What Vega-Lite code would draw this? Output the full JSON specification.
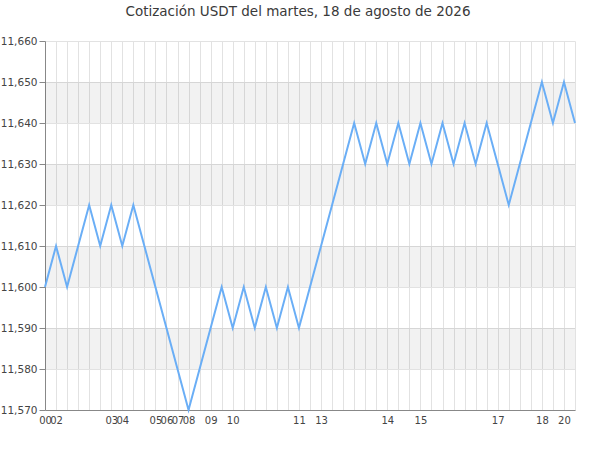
{
  "$schema": "https://vega.github.io/schema/vega-lite/v6.json",
  "width": 530,
  "height": 369,
  "autosize": "none",
  "padding": {"left": 45, "top": 41, "right": 25, "bottom": 40},
  "background": "white",
  "title": {
    "text": "Cotización USDT del martes, 18 de agosto de 2026",
    "font": "DejaVu Sans",
    "fontSize": 13.5,
    "fontWeight": "normal",
    "color": "#3a3a3a",
    "anchor": "middle",
    "offset": 18,
    "dx": -12
  },
  "config": {
    "view": {"stroke": null},
    "axis": {"labelFont": "DejaVu Sans", "labelFontSize": 10.5, "labelColor": "#444444", "domainColor": "#888888", "tickColor": "#888888", "gridColor": "#e2e2e2"}
  },
  "datasets": {
    "cotizacion": [
      {"hora": "00:00", "precio": 11600},
      {"hora": "02:00", "precio": 11610},
      {"hora": "02:10", "precio": 11600},
      {"hora": "02:20", "precio": 11610},
      {"hora": "02:30", "precio": 11620},
      {"hora": "02:40", "precio": 11610},
      {"hora": "03:00", "precio": 11620},
      {"hora": "04:00", "precio": 11610},
      {"hora": "04:20", "precio": 11620},
      {"hora": "04:40", "precio": 11610},
      {"hora": "05:00", "precio": 11600},
      {"hora": "06:00", "precio": 11590},
      {"hora": "07:00", "precio": 11580},
      {"hora": "08:00", "precio": 11570},
      {"hora": "08:30", "precio": 11580},
      {"hora": "09:00", "precio": 11590},
      {"hora": "09:30", "precio": 11600},
      {"hora": "10:00", "precio": 11590},
      {"hora": "10:10", "precio": 11600},
      {"hora": "10:20", "precio": 11590},
      {"hora": "10:30", "precio": 11600},
      {"hora": "10:40", "precio": 11590},
      {"hora": "10:50", "precio": 11600},
      {"hora": "11:00", "precio": 11590},
      {"hora": "11:30", "precio": 11600},
      {"hora": "13:00", "precio": 11610},
      {"hora": "13:10", "precio": 11620},
      {"hora": "13:20", "precio": 11630},
      {"hora": "13:30", "precio": 11640},
      {"hora": "13:40", "precio": 11630},
      {"hora": "13:50", "precio": 11640},
      {"hora": "14:00", "precio": 11630},
      {"hora": "14:20", "precio": 11640},
      {"hora": "14:40", "precio": 11630},
      {"hora": "15:00", "precio": 11640},
      {"hora": "15:05", "precio": 11630},
      {"hora": "15:15", "precio": 11640},
      {"hora": "15:25", "precio": 11630},
      {"hora": "15:35", "precio": 11640},
      {"hora": "15:45", "precio": 11630},
      {"hora": "15:55", "precio": 11640},
      {"hora": "17:00", "precio": 11630},
      {"hora": "17:15", "precio": 11620},
      {"hora": "17:30", "precio": 11630},
      {"hora": "17:45", "precio": 11640},
      {"hora": "18:00", "precio": 11650},
      {"hora": "18:30", "precio": 11640},
      {"hora": "20:00", "precio": 11650},
      {"hora": "20:30", "precio": 11640}
    ],
    "bandas": [
      {"desde": 11580, "hasta": 11590},
      {"desde": 11600, "hasta": 11610},
      {"desde": 11620, "hasta": 11630},
      {"desde": 11640, "hasta": 11650}
    ]
  },
  "layer": [
    {
      "data": {"name": "bandas"},
      "mark": {"type": "rect", "fill": "#000000", "fillOpacity": 0.05},
      "encoding": {
        "y": {"field": "desde", "type": "quantitative", "scale": {"domain": [11570, 11660], "nice": false, "zero": false}},
        "y2": {"field": "hasta"}
      }
    },
    {
      "data": {"name": "cotizacion"},
      "mark": {"type": "line", "color": "#6aaef6", "strokeWidth": 2},
      "encoding": {
        "x": {
          "field": "hora", "type": "ordinal", "sort": null,
          "scale": {"type": "point", "padding": 0},
          "axis": {
            "title": null, "labelAngle": 0, "ticks": false, "grid": true,
            "labelPadding": 5, "labelFontSize": 10,
            "labelExpr": "slice(datum.value, 3) == '00' ? slice(datum.value, 0, 2) : ''"
          }
        },
        "y": {
          "field": "precio", "type": "quantitative",
          "scale": {"domain": [11570, 11660], "nice": false, "zero": false},
          "axis": {
            "title": null,
            "values": [11570, 11575, 11580, 11585, 11590, 11595, 11600, 11605, 11610, 11615, 11620, 11625, 11630, 11635, 11640, 11645, 11650, 11655, 11660],
            "format": ",d",
            "labelExpr": "datum.value % 10 == 0 ? datum.label : ''",
            "tickSize": {"condition": {"test": "datum.value % 10 != 0", "value": 3}, "value": 6},
            "gridOpacity": {"condition": {"test": "datum.value % 10 != 0", "value": 0}, "value": 1},
            "labelPadding": 2
          }
        }
      }
    }
  ]
}
